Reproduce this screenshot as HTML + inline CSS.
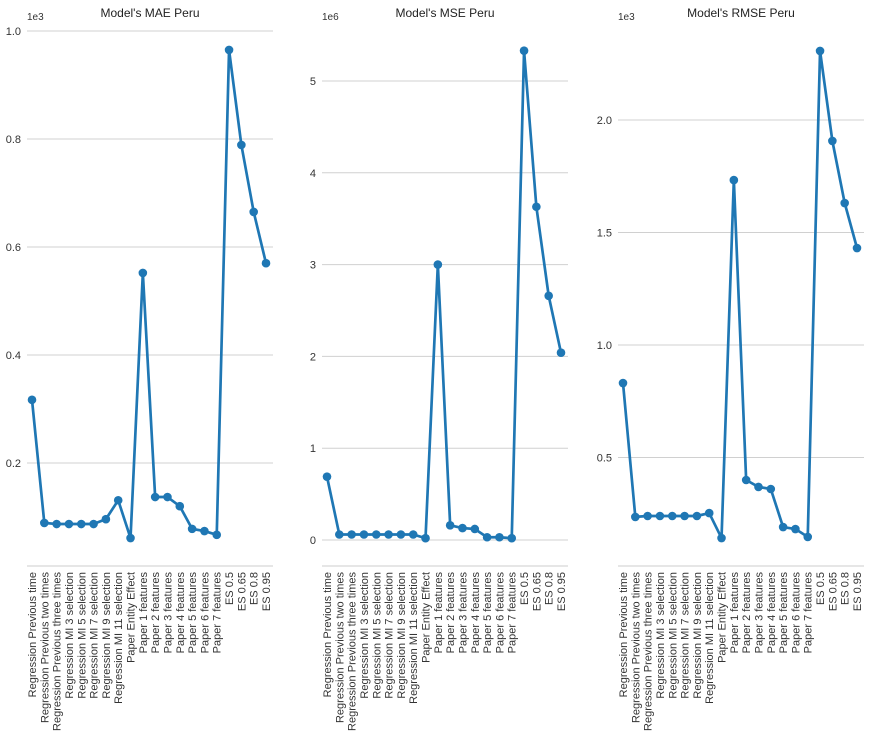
<!DOCTYPE html>
<html><head><meta charset="utf-8"><style>
body{margin:0;background:#fff;}
svg{display:block;font-family:"Liberation Sans","DejaVu Sans",sans-serif;}
</style></head><body>
<svg id="chart" width="870" height="739"></svg>
<script>
const categories=["Regression Previous time","Regression Previous two times","Regression Previous three times","Regression MI 3 selection","Regression MI 5 selection","Regression MI 7 selection","Regression MI 9 selection","Regression MI 11 selection","Paper Entity Effect","Paper 1 features","Paper 2 features","Paper 3 features","Paper 4 features","Paper 5 features","Paper 6 features","Paper 7 features","ES 0.5","ES 0.65","ES 0.8","ES 0.95"];
const maeValues=[0.317,0.089,0.087,0.087,0.087,0.087,0.096,0.131,0.061,0.552,0.137,0.137,0.120,0.078,0.074,0.067,0.965,0.789,0.665,0.570];
const mseValues=[0.69,0.06,0.06,0.06,0.06,0.06,0.06,0.06,0.02,3.0,0.16,0.13,0.12,0.03,0.03,0.02,5.33,3.63,2.66,2.04];
const rmseValues=[0.831,0.236,0.240,0.240,0.240,0.240,0.240,0.253,0.142,1.733,0.400,0.369,0.360,0.191,0.182,0.147,2.307,1.907,1.631,1.431];
const maeTicks=["0.2","0.4","0.6","0.8","1.0"];
const mseTicks=["0","1","2","3","4","5"];
const rmseTicks=["0.5","1.0","1.5","2.0"];

const NS="http://www.w3.org/2000/svg";
const svg=document.getElementById('chart');
function mk(t,a,p){const e=document.createElementNS(NS,t);for(const k in a)e.setAttribute(k,a[k]);(p||svg).appendChild(e);return e;}

const panels=[
 {title:"Model's MAE Peru",vals:maeValues,ticks:maeTicks,x0:27,x1:273,x0p:32,x1p:266,zeroY:571,ppu:540,offset:"1e3",key:'mae'},
 {title:"Model's MSE Peru",vals:mseValues,ticks:mseTicks,x0:322,x1:568,x0p:327,x1p:561,zeroY:540,ppu:91.8,offset:"1e6",key:'mse'},
 {title:"Model's RMSE Peru",vals:rmseValues,ticks:rmseTicks,x0:618,x1:864,x0p:623,x1p:857,zeroY:570,ppu:225,offset:"1e3",key:'rmse'}
];
panels.forEach(p=>{
 const g=mk('g',{});
 
 
 const yS=v=>p.zeroY-v*p.ppu;
 const xS=i=>p.x0p+i*(p.x1p-p.x0p)/(categories.length-1);
 p.ticks.forEach(t=>{
  const y=yS(parseFloat(t));
  const l=mk('line',{x1:p.x0,x2:p.x1,y1:y,y2:y,stroke:'#d0d0d0','stroke-width':1},g);
  
  const tx=mk('text',{x:p.x0-6,y:y+4,'font-size':11,fill:'#333','text-anchor':'end'},g);
  tx.textContent=t;
  
 });
 const base=mk('line',{x1:p.x0,x2:p.x1,y1:566,y2:566,stroke:'#ccc','stroke-width':1},g);
 
 const off=mk('text',{x:p.x0,y:20,'font-size':10,fill:'#333'},g);off.textContent=p.offset;
 
 const ti=mk('text',{x:(p.x0+p.x1)/2,y:17,'font-size':12,fill:'#222','text-anchor':'middle'},g);ti.textContent=p.title;
 
 categories.forEach((c,i)=>{
  const x=xS(i);
  const tl=mk('text',{x:0,y:0,'font-size':11,fill:'#333','text-anchor':'end',transform:`translate(${x+4},572) rotate(-90)`},g);
  tl.textContent=c;
  
 });
 const pts=p.vals.map((v,i)=>xS(i)+','+yS(v)).join(' ');
 const pl=mk('polyline',{points:pts,fill:'none',stroke:'#1f77b4','stroke-width':2.7,'stroke-linejoin':'round'},g);
 
 p.vals.forEach((v,i)=>{
  const c=mk('circle',{cx:xS(i),cy:yS(v),r:4.3,fill:'#1f77b4'},g);
  
 });
});
</script>
</body></html>
